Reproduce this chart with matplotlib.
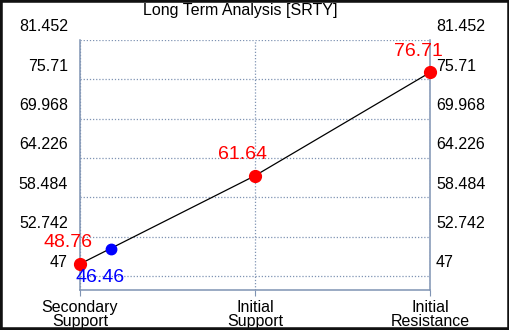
import matplotlib
matplotlib.use('Agg')
import matplotlib.pyplot as plt
from matplotlib import rc
import matplotlib.patches as patches

rc('font', family=['Liberation Sans', 'DejaVu Sans'])

# chart data
categories = ['Secondary\nSupport', 'Initial\nSupport', 'Initial\nResistance']
levels = [48.76, 61.64, 76.71]
current_label = 46.46
current_pos = 0.18   # where the blue dot sits along the x axis
current_level = 51.0  # where it sits vertically (on the line)
yticks = [47, 52.742, 58.484, 64.226, 69.968, 75.71, 81.452]
ytick_labels = ['47', '52.742', '58.484', '64.226', '69.968', '75.71', '81.452']

axis_color = '#7f93b3'

fig = plt.figure(figsize=(5.1, 3.3), dpi=100)
ax = fig.add_axes([80 / 510, 1 - 290 / 330, 350 / 510, 250 / 330])

x = list(range(len(categories)))
ax.plot(x, levels, color='black', linewidth=0.9, zorder=2)
ax.plot(x, levels, 'o', color='red', markersize=8.5, zorder=3, clip_on=False)
ax.plot([current_pos], [current_level], 'o', color='blue', markersize=7.5, zorder=3, clip_on=False)

for xi, v in zip(x, levels):
    ax.annotate('%.2f' % v, (xi, v), xytext=(-12, 21), textcoords='offset pixels',
                ha='center', va='center', color='red', fontsize=14, zorder=4)
ax.annotate('%.2f' % current_label, (current_pos, current_level), xytext=(-11, -29),
            textcoords='offset pixels', ha='center', va='center', color='blue',
            fontsize=14, zorder=4)

ax.set_xlim(0, 2)
ax.set_ylim(44.956, 81.452)
ax.set_xticks(x)
ax.set_xticklabels(categories, fontsize=11.5, linespacing=0.9)
ax.set_yticks(yticks)
ax.set_yticklabels([])
ax.tick_params(axis='y', length=0)
ax.tick_params(axis='x', length=4, color=axis_color, pad=3)

# y labels on both sides, sitting a little above their grid lines
for v, lab in zip(yticks, ytick_labels):
    ax.annotate(lab, (0, v), xycoords=('axes fraction', 'data'), xytext=(-12, 13),
                textcoords='offset pixels', ha='right', va='center', fontsize=11.5,
                annotation_clip=False)
    ax.annotate(lab, (1, v), xycoords=('axes fraction', 'data'), xytext=(6, 13),
                textcoords='offset pixels', ha='left', va='center', fontsize=11.5,
                annotation_clip=False)

ax.grid(True, color=axis_color, linestyle=(0, (1, 1.5)), linewidth=0.9)
ax.set_axisbelow(True)
for s in ['left', 'right', 'bottom']:
    ax.spines[s].set_color(axis_color)
    ax.spines[s].set_linewidth(1.1)
ax.spines['top'].set_visible(False)

fig.text(240 / 510, 1 - 10 / 330, 'Long Term Analysis [SRTY]', ha='center', va='center',
         fontsize=11.5)

fig.patches.append(patches.Rectangle((0, 0), 1, 1, transform=fig.transFigure,
                                     fill=False, edgecolor='#111111', linewidth=4))

fig.savefig('out.png', dpi=100)
